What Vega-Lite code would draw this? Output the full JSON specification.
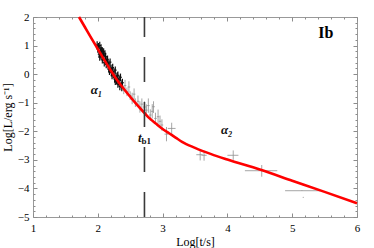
{
  "$schema": "https://vega.github.io/schema/vega-lite/v6.json",
  "width": 324,
  "height": 200,
  "autosize": {"type": "none"},
  "padding": {"left": 33, "top": 17, "right": 17, "bottom": 31},
  "background": "white",
  "config": {
    "view": {"stroke": "#999999", "strokeWidth": 1},
    "font": "Liberation Serif",
    "axis": {"grid": false, "labelFont": "Liberation Serif", "titleFont": "Liberation Serif", "labelFontSize": 11, "titleFontSize": 12, "titleFontWeight": "normal", "labelColor": "#000000", "titleColor": "#000000", "tickColor": "#8c8c8c", "domain": false}
  },
  "datasets": {
    "sparse": [
      {"t": 2.38, "L": -0.30, "Llo": -0.45, "Lhi": -0.15, "tlo": 2.36, "thi": 2.40},
      {"t": 2.40, "L": -0.55, "Llo": -0.70, "Lhi": -0.40, "tlo": 2.38, "thi": 2.42},
      {"t": 2.42, "L": -0.40, "Llo": -0.60, "Lhi": -0.20, "tlo": 2.40, "thi": 2.44},
      {"t": 2.45, "L": -0.62, "Llo": -0.77, "Lhi": -0.47, "tlo": 2.43, "thi": 2.47},
      {"t": 2.48, "L": -0.45, "Llo": -0.65, "Lhi": -0.25, "tlo": 2.46, "thi": 2.50},
      {"t": 2.50, "L": -0.75, "Llo": -0.90, "Lhi": -0.60, "tlo": 2.48, "thi": 2.52},
      {"t": 2.53, "L": -0.85, "Llo": -1.05, "Lhi": -0.65, "tlo": 2.51, "thi": 2.55},
      {"t": 2.56, "L": -0.70, "Llo": -0.90, "Lhi": -0.50, "tlo": 2.54, "thi": 2.58},
      {"t": 2.58, "L": -1.00, "Llo": -1.15, "Lhi": -0.85, "tlo": 2.56, "thi": 2.60},
      {"t": 2.62, "L": -0.95, "Llo": -1.15, "Lhi": -0.75, "tlo": 2.60, "thi": 2.64},
      {"t": 2.65, "L": -1.15, "Llo": -1.35, "Lhi": -0.95, "tlo": 2.63, "thi": 2.67},
      {"t": 2.68, "L": -1.05, "Llo": -1.25, "Lhi": -0.85, "tlo": 2.66, "thi": 2.70},
      {"t": 2.72, "L": -1.15, "Llo": -1.35, "Lhi": -0.95, "tlo": 2.70, "thi": 2.74},
      {"t": 2.75, "L": -1.26, "Llo": -1.46, "Lhi": -1.06, "tlo": 2.73, "thi": 2.77},
      {"t": 2.78, "L": -1.10, "Llo": -1.35, "Lhi": -0.85, "tlo": 2.76, "thi": 2.80},
      {"t": 2.81, "L": -1.43, "Llo": -1.63, "Lhi": -1.23, "tlo": 2.79, "thi": 2.83},
      {"t": 2.84, "L": -1.30, "Llo": -1.55, "Lhi": -1.05, "tlo": 2.82, "thi": 2.86},
      {"t": 2.86, "L": -1.14, "Llo": -1.36, "Lhi": -0.95, "tlo": 2.84, "thi": 2.88},
      {"t": 2.89, "L": -1.55, "Llo": -1.75, "Lhi": -1.35, "tlo": 2.87, "thi": 2.91},
      {"t": 2.93, "L": -1.49, "Llo": -1.74, "Lhi": -1.24, "tlo": 2.91, "thi": 2.95},
      {"t": 2.96, "L": -1.65, "Llo": -1.85, "Lhi": -1.45, "tlo": 2.94, "thi": 2.98},
      {"t": 2.99, "L": -1.78, "Llo": -1.98, "Lhi": -1.58, "tlo": 2.97, "thi": 3.01},
      {"t": 3.06, "L": -2.10, "Llo": -2.35, "Lhi": -1.85, "tlo": 3.03, "thi": 3.09},
      {"t": 3.14, "L": -1.90, "Llo": -2.10, "Lhi": -1.70, "tlo": 3.08, "thi": 3.20},
      {"t": 3.58, "L": -2.82, "Llo": -3.02, "Lhi": -2.66, "tlo": 3.52, "thi": 3.62},
      {"t": 3.64, "L": -2.84, "Llo": -3.03, "Lhi": -2.68, "tlo": 3.60, "thi": 3.68},
      {"t": 4.09, "L": -2.84, "Llo": -3.00, "Lhi": -2.67, "tlo": 4.00, "thi": 4.17},
      {"t": 4.53, "L": -3.38, "Llo": -3.59, "Lhi": -3.18, "tlo": 4.27, "thi": 4.77},
      {"t": 5.15, "L": -4.08, "Llo": -4.09, "Lhi": -4.07, "tlo": 4.89, "thi": 5.43},
      {"t": 5.17, "L": -4.31, "Llo": -4.32, "Lhi": -4.30, "tlo": 5.165, "thi": 5.175}
    ],
    "dense": [
      {"t": 1.99, "L": 1.02, "Llo": 0.89, "Lhi": 1.15, "tlo": 1.97, "thi": 2.01},
      {"t": 2.00, "L": 0.88, "Llo": 0.75, "Lhi": 1.01, "tlo": 1.98, "thi": 2.02},
      {"t": 2.01, "L": 0.96, "Llo": 0.83, "Lhi": 1.09, "tlo": 1.99, "thi": 2.03},
      {"t": 2.02, "L": 0.70, "Llo": 0.57, "Lhi": 0.83, "tlo": 2.00, "thi": 2.04},
      {"t": 2.03, "L": 1.00, "Llo": 0.87, "Lhi": 1.13, "tlo": 2.01, "thi": 2.05},
      {"t": 2.03, "L": 0.60, "Llo": 0.47, "Lhi": 0.73, "tlo": 2.01, "thi": 2.05},
      {"t": 2.04, "L": 0.78, "Llo": 0.65, "Lhi": 0.91, "tlo": 2.02, "thi": 2.06},
      {"t": 2.05, "L": 0.64, "Llo": 0.51, "Lhi": 0.77, "tlo": 2.03, "thi": 2.07},
      {"t": 2.05, "L": 0.92, "Llo": 0.79, "Lhi": 1.05, "tlo": 2.03, "thi": 2.07},
      {"t": 2.06, "L": 0.80, "Llo": 0.67, "Lhi": 0.93, "tlo": 2.04, "thi": 2.08},
      {"t": 2.07, "L": 0.81, "Llo": 0.68, "Lhi": 0.94, "tlo": 2.05, "thi": 2.09},
      {"t": 2.07, "L": 0.50, "Llo": 0.37, "Lhi": 0.63, "tlo": 2.05, "thi": 2.09},
      {"t": 2.08, "L": 0.58, "Llo": 0.45, "Lhi": 0.71, "tlo": 2.06, "thi": 2.10},
      {"t": 2.09, "L": 0.66, "Llo": 0.53, "Lhi": 0.79, "tlo": 2.07, "thi": 2.11},
      {"t": 2.09, "L": 0.78, "Llo": 0.65, "Lhi": 0.91, "tlo": 2.07, "thi": 2.11},
      {"t": 2.10, "L": 0.40, "Llo": 0.27, "Lhi": 0.53, "tlo": 2.08, "thi": 2.12},
      {"t": 2.11, "L": 0.71, "Llo": 0.58, "Lhi": 0.84, "tlo": 2.09, "thi": 2.13},
      {"t": 2.12, "L": 0.48, "Llo": 0.35, "Lhi": 0.61, "tlo": 2.10, "thi": 2.14},
      {"t": 2.12, "L": 0.62, "Llo": 0.49, "Lhi": 0.75, "tlo": 2.10, "thi": 2.14},
      {"t": 2.13, "L": 0.34, "Llo": 0.21, "Lhi": 0.47, "tlo": 2.11, "thi": 2.15},
      {"t": 2.14, "L": 0.50, "Llo": 0.37, "Lhi": 0.63, "tlo": 2.12, "thi": 2.16},
      {"t": 2.15, "L": 0.52, "Llo": 0.39, "Lhi": 0.65, "tlo": 2.13, "thi": 2.17},
      {"t": 2.15, "L": 0.40, "Llo": 0.27, "Lhi": 0.53, "tlo": 2.13, "thi": 2.17},
      {"t": 2.16, "L": 0.28, "Llo": 0.15, "Lhi": 0.41, "tlo": 2.14, "thi": 2.18},
      {"t": 2.17, "L": 0.36, "Llo": 0.23, "Lhi": 0.49, "tlo": 2.15, "thi": 2.19},
      {"t": 2.17, "L": 0.18, "Llo": 0.05, "Lhi": 0.31, "tlo": 2.15, "thi": 2.19},
      {"t": 2.18, "L": 0.10, "Llo": -0.03, "Lhi": 0.23, "tlo": 2.16, "thi": 2.20},
      {"t": 2.19, "L": 0.42, "Llo": 0.29, "Lhi": 0.55, "tlo": 2.17, "thi": 2.21},
      {"t": 2.20, "L": 0.18, "Llo": 0.05, "Lhi": 0.31, "tlo": 2.18, "thi": 2.22},
      {"t": 2.21, "L": 0.05, "Llo": -0.08, "Lhi": 0.18, "tlo": 2.19, "thi": 2.23},
      {"t": 2.22, "L": 0.21, "Llo": 0.08, "Lhi": 0.34, "tlo": 2.20, "thi": 2.24},
      {"t": 2.22, "L": -0.05, "Llo": -0.18, "Lhi": 0.08, "tlo": 2.20, "thi": 2.24},
      {"t": 2.23, "L": 0.23, "Llo": 0.10, "Lhi": 0.36, "tlo": 2.21, "thi": 2.25},
      {"t": 2.24, "L": -0.01, "Llo": -0.14, "Lhi": 0.12, "tlo": 2.22, "thi": 2.26},
      {"t": 2.25, "L": 0.08, "Llo": -0.05, "Lhi": 0.21, "tlo": 2.23, "thi": 2.27},
      {"t": 2.26, "L": -0.17, "Llo": -0.30, "Lhi": -0.04, "tlo": 2.24, "thi": 2.28},
      {"t": 2.27, "L": 0.14, "Llo": 0.01, "Lhi": 0.27, "tlo": 2.25, "thi": 2.29},
      {"t": 2.27, "L": -0.25, "Llo": -0.38, "Lhi": -0.12, "tlo": 2.25, "thi": 2.29},
      {"t": 2.28, "L": -0.09, "Llo": -0.22, "Lhi": 0.04, "tlo": 2.26, "thi": 2.30},
      {"t": 2.29, "L": -0.23, "Llo": -0.36, "Lhi": -0.10, "tlo": 2.27, "thi": 2.31},
      {"t": 2.30, "L": -0.06, "Llo": -0.19, "Lhi": 0.07, "tlo": 2.28, "thi": 2.32},
      {"t": 2.31, "L": -0.04, "Llo": -0.17, "Lhi": 0.09, "tlo": 2.29, "thi": 2.33},
      {"t": 2.31, "L": -0.35, "Llo": -0.48, "Lhi": -0.22, "tlo": 2.29, "thi": 2.33},
      {"t": 2.32, "L": -0.27, "Llo": -0.40, "Lhi": -0.14, "tlo": 2.30, "thi": 2.34},
      {"t": 2.33, "L": -0.18, "Llo": -0.31, "Lhi": -0.05, "tlo": 2.31, "thi": 2.35},
      {"t": 2.34, "L": -0.43, "Llo": -0.56, "Lhi": -0.30, "tlo": 2.32, "thi": 2.36},
      {"t": 2.35, "L": -0.11, "Llo": -0.24, "Lhi": 0.02, "tlo": 2.33, "thi": 2.37},
      {"t": 2.36, "L": -0.34, "Llo": -0.47, "Lhi": -0.21, "tlo": 2.34, "thi": 2.38},
      {"t": 2.37, "L": -0.47, "Llo": -0.60, "Lhi": -0.34, "tlo": 2.35, "thi": 2.39},
      {"t": 2.38, "L": -0.30, "Llo": -0.43, "Lhi": -0.17, "tlo": 2.36, "thi": 2.40}
    ],
    "curve": [
      {"t": 1.71, "L": 2.00},
      {"t": 1.80, "L": 1.65},
      {"t": 1.90, "L": 1.26},
      {"t": 2.00, "L": 0.88},
      {"t": 2.10, "L": 0.50},
      {"t": 2.20, "L": 0.13},
      {"t": 2.30, "L": -0.21},
      {"t": 2.40, "L": -0.51},
      {"t": 2.50, "L": -0.79},
      {"t": 2.60, "L": -1.06},
      {"t": 2.72, "L": -1.36},
      {"t": 2.80, "L": -1.55},
      {"t": 2.90, "L": -1.74},
      {"t": 3.00, "L": -1.92},
      {"t": 3.10, "L": -2.07},
      {"t": 3.20, "L": -2.22},
      {"t": 3.30, "L": -2.37},
      {"t": 3.50, "L": -2.58},
      {"t": 3.75, "L": -2.80},
      {"t": 4.00, "L": -2.99},
      {"t": 4.50, "L": -3.34},
      {"t": 5.00, "L": -3.73},
      {"t": 5.50, "L": -4.12},
      {"t": 6.00, "L": -4.52}
    ],
    "labels": [
      {"label": "α₁", "t": 1.98, "L": -0.55},
      {"label": "α₂", "t": 3.99, "L": -1.95},
      {"label": "t", "t": 2.65, "L": -2.25}
    ],
    "subs": [
      {"label": "b1", "t": 2.675, "L": -2.33}
    ],
    "title": [
      {"label": "Ib", "t": 5.52, "L": 1.45}
    ],
    "tb": [{"t": 2.72}]
  },
  "resolve": {"axis": {"x": "independent", "y": "independent"}},
  "layer": [
    {
      "data": {"name": "sparse"},
      "mark": {"type": "rule", "color": "#8f8f8f", "strokeWidth": 0.8},
      "encoding": {
        "x": {"field": "t", "type": "quantitative", "scale": {"domain": [1, 6], "nice": false, "zero": false},
              "axis": {"orient": "bottom", "title": "Log[t/s]", "values": [1, 2, 3, 4, 5, 6], "format": "d", "ticks": false, "labelPadding": 5, "titlePadding": 3, "labelFlush": false}},
        "y": {"field": "Llo", "type": "quantitative", "scale": {"domain": [-5, 2], "nice": false, "zero": false},
              "axis": {"orient": "left", "title": "Log[L/erg s⁻¹]", "values": [-5, -4, -3, -2, -1, 0, 1, 2], "format": "d", "ticks": false, "labelPadding": 4, "titlePadding": 3, "labelFlush": false}},
        "y2": {"field": "Lhi"}
      }
    },
    {
      "data": {"name": "sparse"},
      "mark": {"type": "rule", "color": "#8f8f8f", "strokeWidth": 0.8},
      "encoding": {
        "x": {"field": "tlo", "type": "quantitative",
              "axis": {"orient": "bottom", "title": null, "labels": false, "values": [1, 2, 3, 4, 5, 6], "tickSize": -4}},
        "x2": {"field": "thi"},
        "y": {"field": "L", "type": "quantitative",
              "axis": {"orient": "left", "title": null, "labels": false, "values": [-5, -4, -3, -2, -1, 0, 1, 2], "tickSize": -4}}
      }
    },
    {
      "data": {"name": "dense"},
      "mark": {"type": "rule", "color": "#111111", "strokeWidth": 1.2},
      "encoding": {
        "x": {"field": "t", "type": "quantitative",
              "axis": {"orient": "bottom", "title": null, "labels": false, "values": [1.2, 1.4, 1.6, 1.8, 2.2, 2.4, 2.6, 2.8, 3.2, 3.4, 3.6, 3.8, 4.2, 4.4, 4.6, 4.8, 5.2, 5.4, 5.6, 5.8], "tickSize": -2}},
        "y": {"field": "Llo", "type": "quantitative",
              "axis": {"orient": "left", "title": null, "labels": false, "values": [-4.8, -4.6, -4.4, -4.2, -3.8, -3.6, -3.4, -3.2, -2.8, -2.6, -2.4, -2.2, -1.8, -1.6, -1.4, -1.2, -0.8, -0.6, -0.4, -0.2, 0.2, 0.4, 0.6, 0.8, 1.2, 1.4, 1.6, 1.8], "tickSize": -2}},
        "y2": {"field": "Lhi"}
      }
    },
    {
      "data": {"name": "dense"},
      "mark": {"type": "rule", "color": "#111111", "strokeWidth": 1.2},
      "encoding": {
        "x": {"field": "tlo", "type": "quantitative",
              "axis": {"orient": "top", "title": null, "labels": false, "values": [1, 2, 3, 4, 5, 6], "tickSize": -4}},
        "x2": {"field": "thi"},
        "y": {"field": "L", "type": "quantitative",
              "axis": {"orient": "right", "title": null, "labels": false, "values": [-5, -4, -3, -2, -1, 0, 1, 2], "tickSize": -4}}
      }
    },
    {
      "data": {"name": "curve"},
      "mark": {"type": "line", "color": "#ff0000", "strokeWidth": 2.6, "interpolate": "monotone"},
      "encoding": {
        "x": {"field": "t", "type": "quantitative",
              "axis": {"orient": "top", "title": null, "labels": false, "values": [1.2, 1.4, 1.6, 1.8, 2.2, 2.4, 2.6, 2.8, 3.2, 3.4, 3.6, 3.8, 4.2, 4.4, 4.6, 4.8, 5.2, 5.4, 5.6, 5.8], "tickSize": -2}},
        "y": {"field": "L", "type": "quantitative",
              "axis": {"orient": "right", "title": null, "labels": false, "values": [-4.8, -4.6, -4.4, -4.2, -3.8, -3.6, -3.4, -3.2, -2.8, -2.6, -2.4, -2.2, -1.8, -1.6, -1.4, -1.2, -0.8, -0.6, -0.4, -0.2, 0.2, 0.4, 0.6, 0.8, 1.2, 1.4, 1.6, 1.8], "tickSize": -2}}
      }
    },
    {
      "data": {"name": "tb"},
      "mark": {"type": "rule", "color": "#3a3a3a", "strokeWidth": 1.6, "strokeDash": [25, 20]},
      "encoding": {
        "x": {"field": "t", "type": "quantitative", "axis": null},
        "y": {"datum": -5, "type": "quantitative", "axis": null},
        "y2": {"datum": 2}
      }
    },
    {
      "data": {"name": "labels"},
      "mark": {"type": "text", "font": "Liberation Serif", "fontSize": 13, "fontWeight": "bold", "fontStyle": "italic", "color": "#111111", "align": "center", "baseline": "middle"},
      "encoding": {
        "x": {"field": "t", "type": "quantitative", "axis": null},
        "y": {"field": "L", "type": "quantitative", "axis": null},
        "text": {"field": "label"}
      }
    },
    {
      "data": {"name": "subs"},
      "mark": {"type": "text", "font": "Liberation Serif", "fontSize": 9, "fontWeight": "bold", "color": "#111111", "align": "left", "baseline": "middle"},
      "encoding": {
        "x": {"field": "t", "type": "quantitative", "axis": null},
        "y": {"field": "L", "type": "quantitative", "axis": null},
        "text": {"field": "label"}
      }
    },
    {
      "data": {"name": "title"},
      "mark": {"type": "text", "font": "Liberation Serif", "fontSize": 16, "fontWeight": "bold", "color": "#000000", "align": "center", "baseline": "middle"},
      "encoding": {
        "x": {"field": "t", "type": "quantitative", "axis": null},
        "y": {"field": "L", "type": "quantitative", "axis": null},
        "text": {"field": "label"}
      }
    }
  ]
}
